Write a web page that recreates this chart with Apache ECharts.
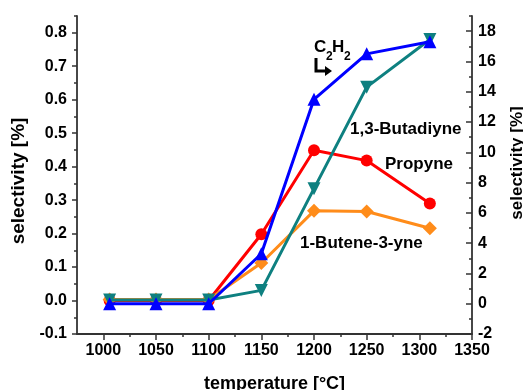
<!DOCTYPE html>
<html>
<head>
<meta charset="utf-8">
<script src="https://cdn.jsdelivr.net/npm/echarts@6/dist/echarts.min.js"></script>
<style>
html,body{margin:0;padding:0;background:#fff;}
#chart{width:523px;height:390px;}
</style>
</head>
<body>
<div id="chart"></div>
<script>
// ---- data ----
var temperatures = [1006, 1050, 1100, 1150, 1200, 1250, 1310];
var propyne      = [0.000, 0.000, 0.000, 0.198, 0.449, 0.418, 0.290];   // left axis
var butenyne     = [0.003, 0.003, 0.003, 0.112, 0.268, 0.266, 0.216];   // left axis
var butadiyne    = [0.25, 0.25, 0.25, 0.88, 7.6, 14.3, 17.45];          // right axis
var acetylene    = [0.0, 0.0, 0.0, 3.3, 13.5, 16.5, 17.3];              // right axis

var xTickLabels = [1000, 1050, 1100, 1150, 1200, 1250, 1300, 1350];
var xMinorTicks = [1025, 1075, 1125, 1175, 1225, 1275, 1325];
var leftTickLabels = [-0.1, 0.0, 0.1, 0.2, 0.3, 0.4, 0.5, 0.6, 0.7, 0.8];
var leftMinorTicks = [-0.05, 0.05, 0.15, 0.25, 0.35, 0.45, 0.55, 0.65, 0.75, 0.85];
var rightTickLabels = [-2, 0, 2, 4, 6, 8, 10, 12, 14, 16, 18];
var rightMinorTicks = [-1, 1, 3, 5, 7, 9, 11, 13, 15, 17, 19];

var FONT = '"Liberation Sans", Arial, sans-serif';
var AXIS_COLOR = '#333333';

function pairs(xs, ys) { return xs.map(function (x, i) { return [x, ys[i]]; }); }

var chart = echarts.init(document.getElementById('chart'), null, {renderer: 'canvas'});

var labelStyle = {color: '#000', fontFamily: FONT, fontWeight: 'bold', fontSize: 16};
var nameStyle = {color: '#000', fontFamily: FONT, fontWeight: 'bold', fontSize: 17};

function minorAxis(base, values, len, inside) {
  return Object.assign({}, base, {
    name: '',
    axisLine: {show: false, onZero: false},
    axisLabel: {show: false},
    axisTick: {show: true, inside: inside, length: len, customValues: values,
               lineStyle: {color: AXIS_COLOR, width: 1.5}},
    splitLine: {show: false}
  });
}

var xBase = {type: 'value', min: 975, max: 1350, position: 'bottom'};
var yLeftBase = {type: 'value', min: -0.1, max: 0.85, position: 'left'};
var yRightBase = {type: 'value', min: -2, max: 19, position: 'right'};

var option = {
  animation: false,
  backgroundColor: '#fff',
  grid: {left: 77, right: 51, top: 16, bottom: 56, containLabel: false, outerBoundsMode: 'none'},
  xAxis: [
    Object.assign({}, xBase, {
      name: 'temperature [°C]', nameLocation: 'middle', nameGap: 41,
      nameTextStyle: Object.assign({}, nameStyle, {fontSize: 18}),
      axisLine: {show: true, onZero: false, lineStyle: {color: AXIS_COLOR, width: 1.8}},
      axisTick: {show: true, inside: false, length: 6, customValues: xTickLabels,
                 lineStyle: {color: AXIS_COLOR, width: 1.5}},
      axisLabel: Object.assign({margin: 9, customValues: xTickLabels,
                 formatter: function (v) { return String(v); }}, labelStyle),
      splitLine: {show: false}
    }),
    minorAxis(xBase, xMinorTicks, 3, false)
  ],
  yAxis: [
    Object.assign({}, yLeftBase, {
      name: 'selectivity [%]', nameLocation: 'middle', nameGap: 45, nameRotate: 90,
      nameTextStyle: Object.assign({}, nameStyle, {fontSize: 19, padding: [0, 12, 0, 0]}),
      axisLine: {show: true, onZero: false, lineStyle: {color: AXIS_COLOR, width: 1.8}},
      axisTick: {show: true, inside: false, length: 5, customValues: leftTickLabels,
                 lineStyle: {color: AXIS_COLOR, width: 1.5}},
      axisLabel: Object.assign({margin: 10, customValues: leftTickLabels,
                 formatter: function (v) { return Number(v).toFixed(1); }}, labelStyle),
      splitLine: {show: false}
    }),
    minorAxis(yLeftBase, leftMinorTicks, 3, false),
    Object.assign({}, yRightBase, {
      name: 'selectivity [%]', nameLocation: 'middle', nameGap: 37, nameRotate: 90,
      nameTextStyle: Object.assign({}, nameStyle, {padding: [0, 0, 0, 24]}),
      axisLine: {show: true, onZero: false, lineStyle: {color: AXIS_COLOR, width: 1.8}},
      axisTick: {show: true, inside: true, length: 6, customValues: rightTickLabels,
                 lineStyle: {color: AXIS_COLOR, width: 1.5}},
      axisLabel: Object.assign({margin: 6, customValues: rightTickLabels}, labelStyle),
      splitLine: {show: false}
    }),
    minorAxis(yRightBase, rightMinorTicks, 3, true)
  ],
  series: [
    {name: 'Propyne', type: 'line', xAxisIndex: 0, yAxisIndex: 0,
     data: pairs(temperatures, propyne), symbol: 'circle', symbolSize: 12,
     itemStyle: {color: '#ff0000'}, lineStyle: {color: '#ff0000', width: 3}, z: 2},
    {name: '1-Butene-3-yne', type: 'line', xAxisIndex: 0, yAxisIndex: 0,
     data: pairs(temperatures, butenyne), symbol: 'diamond', symbolSize: 14,
     itemStyle: {color: '#ff8c1a'}, lineStyle: {color: '#ff8c1a', width: 3}, z: 3},
    {name: '1,3-Butadiyne', type: 'line', xAxisIndex: 0, yAxisIndex: 2,
     data: pairs(temperatures, butadiyne), symbol: 'triangle', symbolRotate: 180, symbolSize: 13,
     itemStyle: {color: '#0e8080'}, lineStyle: {color: '#0e8080', width: 3}, z: 4},
    {name: 'C2H2', type: 'line', xAxisIndex: 0, yAxisIndex: 2,
     data: pairs(temperatures, acetylene), symbol: 'triangle', symbolSize: 13,
     itemStyle: {color: '#0000ff'}, lineStyle: {color: '#0000ff', width: 3}, z: 5}
  ]
};
chart.setOption(option);

// ---- annotations (text labels) ----
var annStyle = {fill: '#000', fontFamily: FONT, fontWeight: 'bold', fontSize: 16};
function txt(x, y, s, size, align) {
  return {type: 'text', x: x, y: y, z: 100,
          style: Object.assign({}, annStyle, {text: s, fontSize: size || 16,
                 textAlign: align || 'left', textVerticalAlign: 'middle'})};
}
chart.setOption({
  graphic: [
    txt(314, 47, 'C', 17), txt(326, 57, '2', 12), txt(332, 47, 'H', 17), txt(344, 57, '2', 12),
    {type: 'polyline', z: 100, shape: {points: [[316, 58], [316, 71], [326, 71]]},
     style: {stroke: '#000', lineWidth: 3, fill: null}},
    {type: 'polygon', z: 100, shape: {points: [[325, 66], [332, 71], [325, 76]]},
     style: {fill: '#000'}},
    txt(350, 129, '1,3-Butadiyne', 17),
    txt(385, 164, 'Propyne', 17),
    txt(300, 243, '1-Butene-3-yne', 17)
  ]
});
</script>
</body>
</html>
